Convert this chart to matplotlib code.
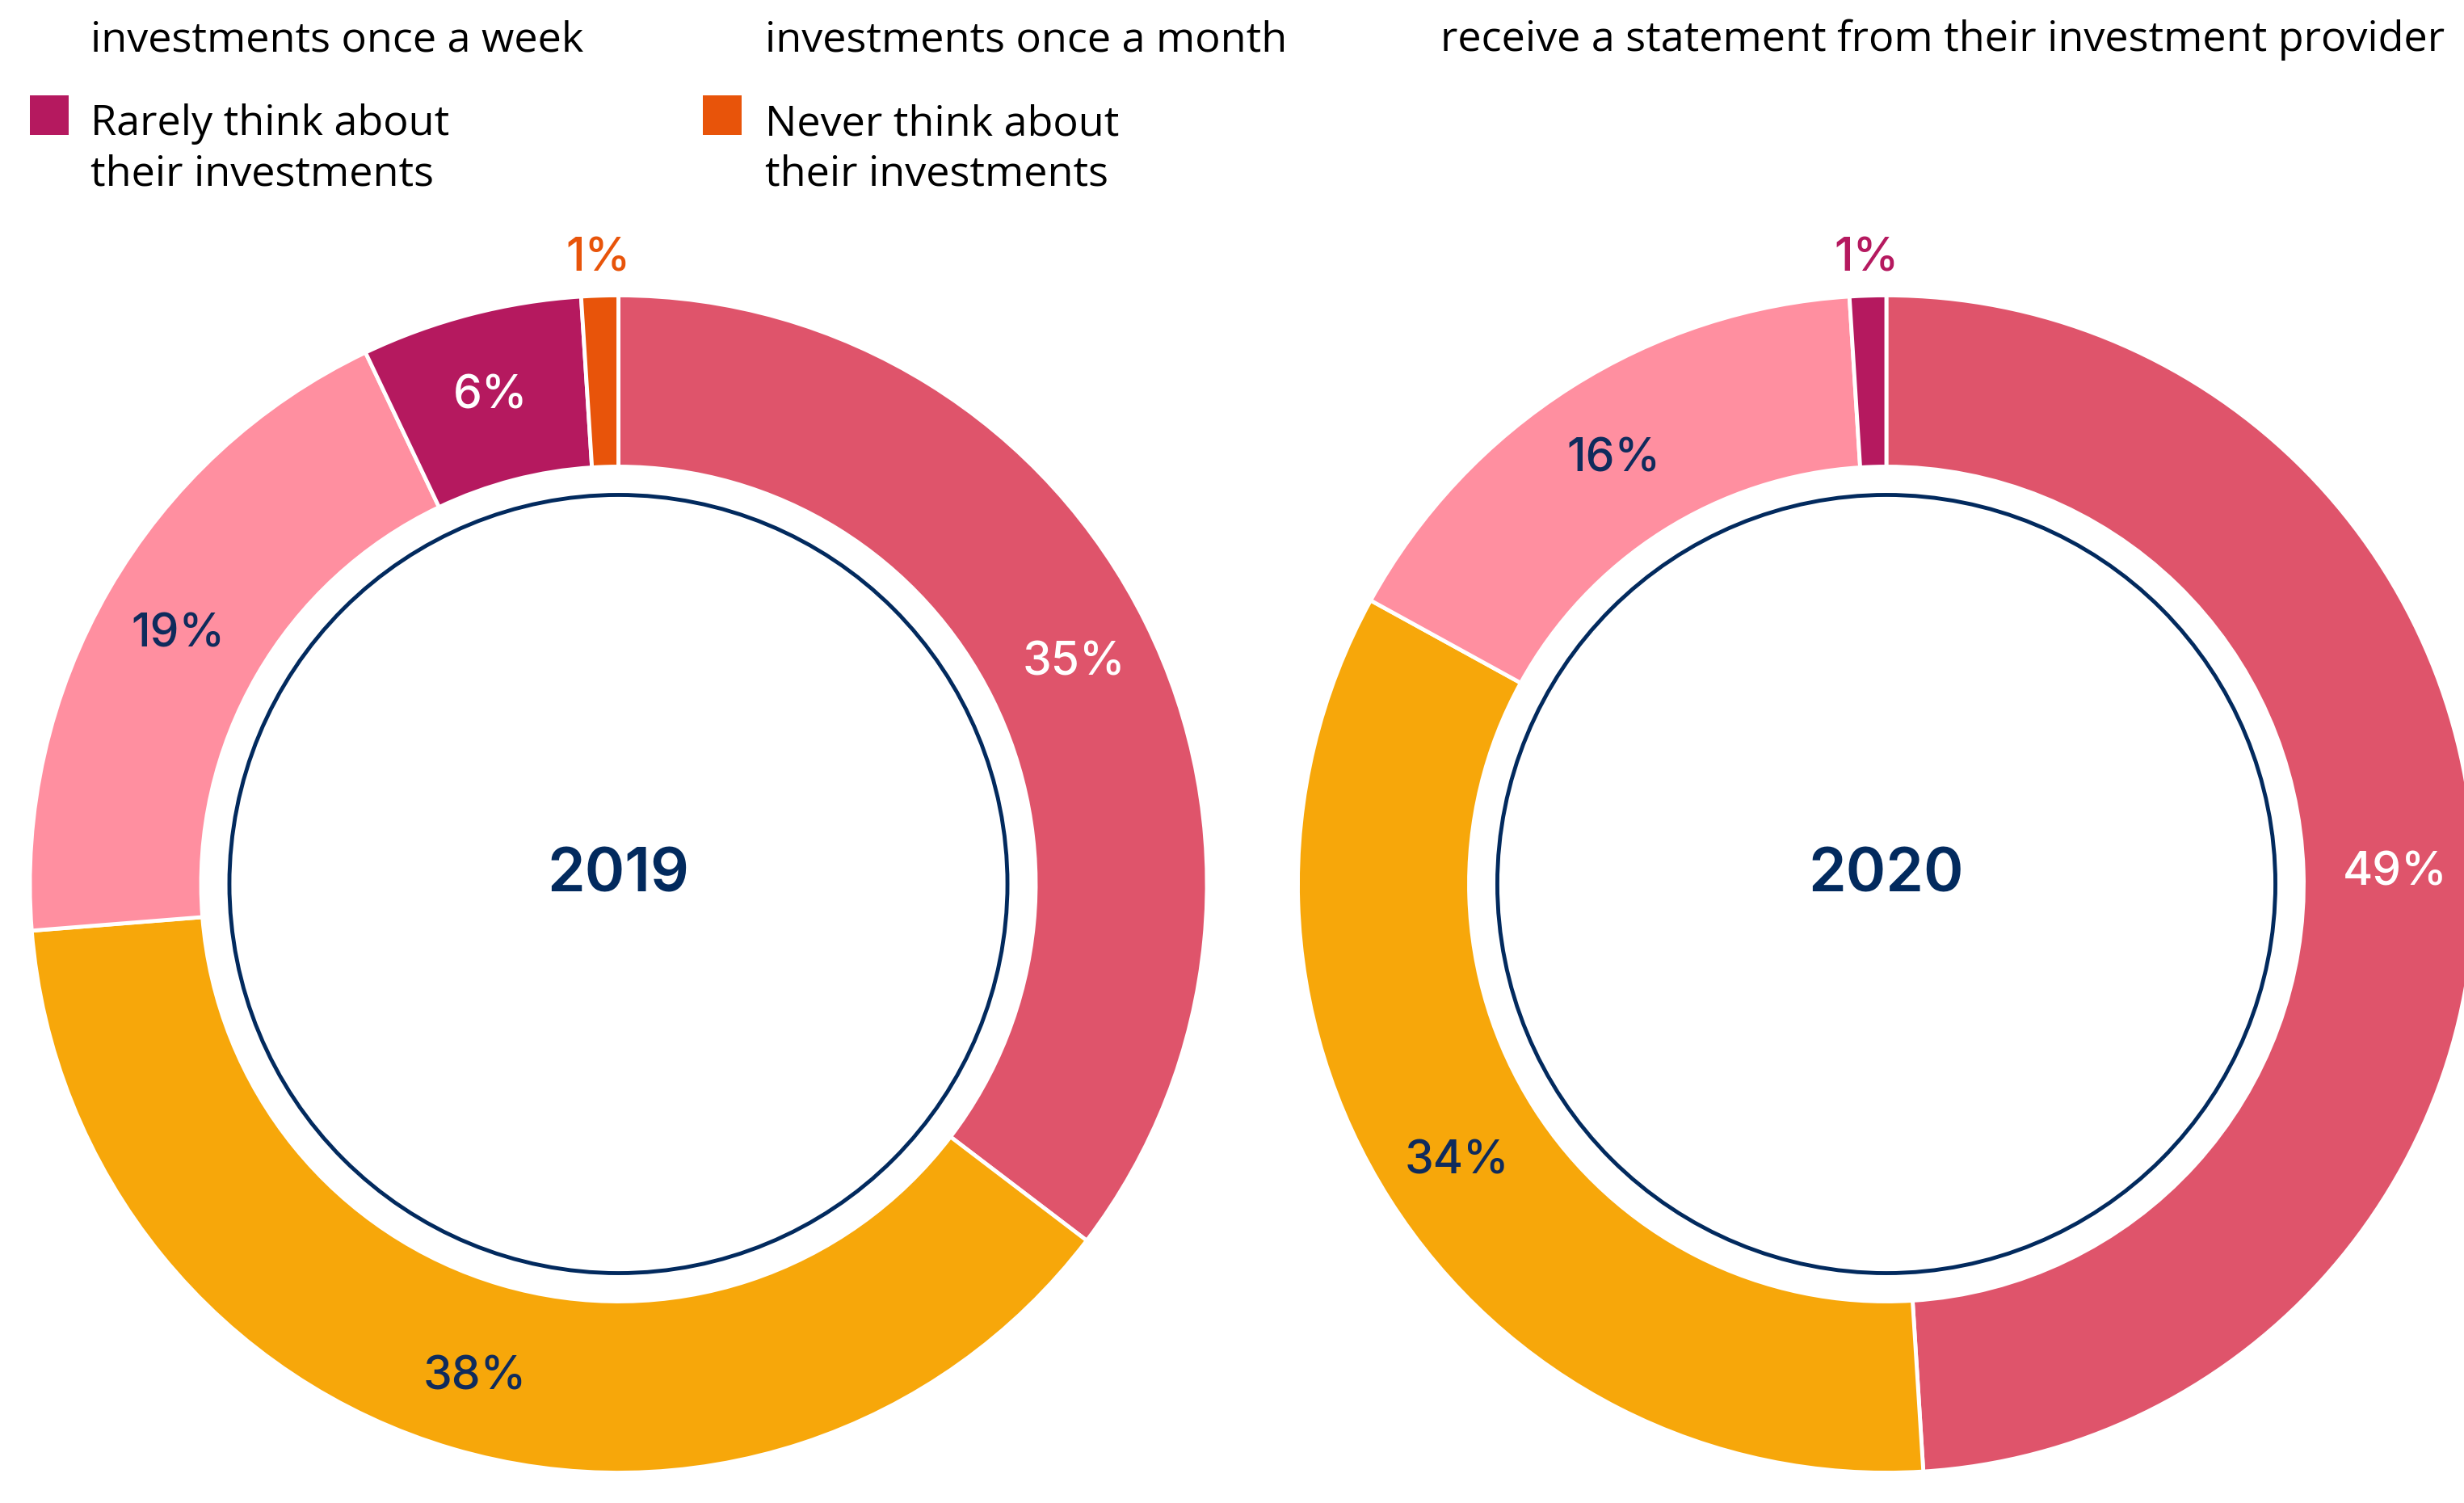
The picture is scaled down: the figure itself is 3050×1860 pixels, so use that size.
import matplotlib.pyplot as plt
from matplotlib.patches import Rectangle, Circle
import numpy as np

# ---- data ----
years = ['2019', '2020']
share_2019 = [35, 38, 19, 6, 1]
share_2020 = [49, 34, 16, 1]
colors_2019 = ['#DF546B', '#F7A70A', '#FF8FA0', '#B5195F', '#E8540A']
colors_2020 = ['#DF546B', '#F7A70A', '#FF8FA0', '#B5195F']
txtcol_2019 = ['white', '#0F2B5C', '#0F2B5C', 'white', '#E8540A']
txtcol_2020 = ['white', '#0F2B5C', '#0F2B5C', '#B5195F']

# legend (top rows are cut off in the source)
legend_top = ['investments once a week', 'investments once a month']
legend_labels = [['Rarely think about', 'their investments'],
                 ['Never think about', 'their investments']]
legend_colors = ['#B5195F', '#E8540A']
note_right = 'receive a statement from their investment provider'

NAVY = '#022A5E'
W, H = 3050, 1860

fig = plt.figure(figsize=(W / 100, H / 100), dpi=100)

############### DONUTS ###############

R = 728.5          # outer radius in px
ring = 0.291       # ring width as fraction of R
centres = [(765.5, 1094), (2335, 1094)]

def donut(cx, cy, vals, cols, tcols, year):
    ax = fig.add_axes([(cx - R) / W, (H - cy - R) / H, 2 * R / W, 2 * R / H])
    wedges, _ = ax.pie(vals, colors=cols, startangle=90, counterclock=False,
                       radius=1, wedgeprops=dict(width=ring, edgecolor='white', linewidth=3.5))
    # percentage labels (baseline shifted so the digits sit centred on the point)
    for w, v, tc in zip(wedges, vals, tcols):
        mid = np.deg2rad((w.theta1 + w.theta2) / 2)
        r = 1.07 if v <= 1 else 1 - ring / 2 + 0.01
        ax.text(r * np.cos(mid), r * np.sin(mid) - 21 / R, f'{v}%', color=tc,
                ha='center', va='baseline', fontsize=41, family='Inter',
                fontweight='medium')
    ax.add_patch(Circle((0, 0), 0.661, facecolor='white', edgecolor=NAVY, linewidth=3.5))
    ax.text(0, -9 / R, year, ha='center', va='baseline', color=NAVY, fontsize=54,
            family='Inter', fontweight='semibold')
    ax.set_xlim(-1, 1)
    ax.set_ylim(-1, 1)
    ax.set_aspect('equal')
    ax.axis('off')

donut(*centres[0], share_2019, colors_2019, txtcol_2019, years[0])
donut(*centres[1], share_2020, colors_2020, txtcol_2020, years[1])

############### LEGEND ###############

col_x = [112, 947]
box_x = [37, 870]
for i in range(2):
    fig.text(col_x[i] / W, 1 - 63 / H, legend_top[i], ha='left', va='baseline',
             fontsize=37.5, family='Open Sans', color='black')
    for k, line in enumerate(legend_labels[i]):
        fig.text(col_x[i] / W, 1 - (167 + 63 * k) / H, line, ha='left', va='baseline',
                 fontsize=37.5, family='Open Sans', color='black')
    fig.patches.append(Rectangle((box_x[i] / W, 1 - 167 / H), 48 / W, 49 / H,
                                 transform=fig.transFigure, facecolor=legend_colors[i],
                                 edgecolor='none'))

fig.text(3026 / W, 1 - 63 / H, note_right, ha='right', va='baseline',
         fontsize=37.5, family='Open Sans', color='black')

fig.savefig('out.png', dpi=100, facecolor='white')
